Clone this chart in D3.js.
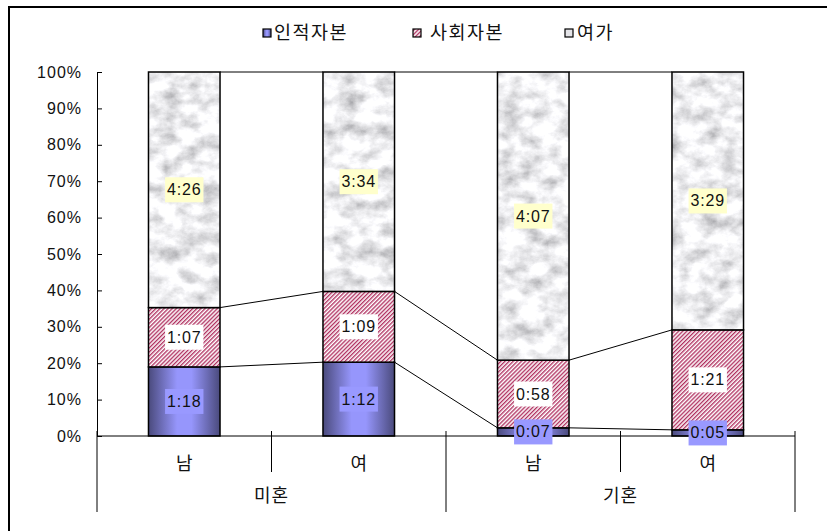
<!DOCTYPE html>
<html>
<head>
<meta charset="utf-8">
<script src="https://cdn.jsdelivr.net/npm/d3@7"></script>
<style>
  html, body { margin: 0; padding: 0; background: #fff; }
  svg { display: block; }
  text { font-family: "Liberation Sans", Arial, "Noto Sans CJK KR", sans-serif; fill: #111; }
  .kr { font-family: "Noto Sans CJK KR", "Liberation Sans", sans-serif; }
</style>
</head>
<body>
<svg id="chart" width="827" height="531"></svg>
<script>
// ---- data (minutes per day) ----
const categories = ["남", "여", "남", "여"];
const groups = ["미혼", "기혼"];
const groupOfCategory = [0, 0, 1, 1];
const seriesNames = ["인적자본", "사회자본", "여가"];
const humanCapital = [78, 72, 7, 5];      // 1:18, 1:12, 0:07, 0:05
const socialCapital = [67, 69, 58, 81];   // 1:07, 1:09, 0:58, 1:21
const leisure = [266, 214, 247, 209];     // 4:26, 3:34, 4:07, 3:29
const yTickValues = [0, 10, 20, 30, 40, 50, 60, 70, 80, 90, 100];

const svg = d3.select("#chart");
const W = 827, H = 531;
const plot = { left: 97, right: 795, top: 72, bottom: 436 };

// ---- defs: fills ----
const defs = svg.append("defs");
const grad = defs.append("linearGradient").attr("id", "blueGrad")
  .attr("x1", "0%").attr("x2", "100%").attr("y1", "0%").attr("y2", "0%");
[["0%", "#4a4a7c"], ["40%", "#9696fc"], ["60%", "#9696fc"], ["100%", "#4a4a7c"]]
  .forEach(([o, c]) => grad.append("stop").attr("offset", o).attr("stop-color", c));

const hatch = defs.append("pattern").attr("id", "hatch")
  .attr("patternUnits", "userSpaceOnUse").attr("width", 2.9).attr("height", 2.9)
  .attr("patternTransform", "rotate(45)");
hatch.append("rect").attr("width", 2.9).attr("height", 2.9).attr("fill", "#fff");
hatch.append("rect").attr("width", 1.35).attr("height", 2.9).attr("fill", "#b03060");

const marble = defs.append("filter").attr("id", "marble")
  .attr("filterUnits", "userSpaceOnUse").attr("x", 0).attr("y", 0).attr("width", W).attr("height", H);
marble.append("feTurbulence").attr("type", "fractalNoise").attr("baseFrequency", "0.05 0.065")
  .attr("numOctaves", 5).attr("seed", 11).attr("result", "noise");
marble.append("feColorMatrix").attr("in", "noise").attr("type", "matrix")
  .attr("values", "1.1 0 0 0 0.31  1.1 0 0 0 0.31  1.1 0 0 0 0.33  0 0 0 0 1").attr("result", "gray");
marble.append("feComposite").attr("in", "gray").attr("in2", "SourceGraphic").attr("operator", "in");

const seriesFill = ["url(#blueGrad)", "url(#hatch)", "#ffffff"];
const labelBg = ["#9999ff", "#ffffff", "#ffffcc"];

// ---- border ----
svg.append("rect").attr("x", 9).attr("y", 7).attr("width", 900).attr("height", 600)
  .attr("fill", "none").attr("stroke", "#000").attr("stroke-width", 2);

// ---- scales ----
const x = d3.scaleBand().domain(d3.range(categories.length))
  .range([plot.left, plot.right]).paddingInner(0.59).paddingOuter(0.295);
const y = d3.scaleLinear().domain([0, 1]).range([plot.bottom, plot.top]);

const table = categories.map((c, i) => ({
  i, s0: humanCapital[i], s1: socialCapital[i], s2: leisure[i]
}));
const stack = d3.stack().keys(["s0", "s1", "s2"]).offset(d3.stackOffsetExpand);
const stacked = stack(table);

const fmt = m => Math.floor(m / 60) + ":" + String(m % 60).padStart(2, "0");

// ---- series lines ----
const gLines = svg.append("g");
stacked.forEach(layer => {
  for (let i = 0; i < layer.length - 1; i++) {
    gLines.append("line")
      .attr("x1", x(i) + x.bandwidth()).attr("y1", y(layer[i][1]))
      .attr("x2", x(i + 1)).attr("y2", y(layer[i + 1][1]))
      .attr("stroke", "#000").attr("stroke-width", 1);
  }
});

// ---- bars ----
stacked.forEach((layer, si) => {
  const g = svg.append("g");
  layer.forEach((d, i) => {
    const r = g.append("rect")
      .attr("x", x(i)).attr("width", x.bandwidth())
      .attr("y", y(d[1])).attr("height", y(d[0]) - y(d[1]))
      .attr("fill", seriesFill[si]);
    if (si === 2) r.attr("filter", "url(#marble)");
    g.append("rect")
      .attr("x", x(i)).attr("width", x.bandwidth())
      .attr("y", y(d[1])).attr("height", y(d[0]) - y(d[1]))
      .attr("fill", "none").attr("stroke", "#000").attr("stroke-width", 1.5);
  });
});

// ---- axes ----
const yAxis = d3.axisLeft(y).tickValues(yTickValues.map(v => v / 100))
  .tickFormat(v => Math.round(v * 100) + "%").tickSize(-5).tickPadding(15);
const gy = svg.append("g").attr("transform", `translate(${plot.left},0)`).call(yAxis);
gy.select(".domain").attr("stroke", "#000");
gy.selectAll(".tick line").attr("stroke", "#000");
gy.selectAll("text").attr("font-size", 16).attr("letter-spacing", 1)
  .style("font-family", "'Liberation Sans', Arial, sans-serif").attr("fill", "#111");

// x axis line
svg.append("line").attr("x1", plot.left).attr("x2", plot.right)
  .attr("y1", plot.bottom).attr("y2", plot.bottom).attr("stroke", "#000");

// category boundaries
const step = x.step();
const bounds = d3.range(categories.length + 1).map(k => plot.left + k * step);
bounds.forEach((bx, k) => {
  const isGroupEdge = (k === 0 || k === categories.length ||
    groupOfCategory[k] !== groupOfCategory[k - 1]);
  svg.append("line").attr("x1", bx).attr("x2", bx)
    .attr("y1", plot.bottom - 5).attr("y2", isGroupEdge ? 512 : 472)
    .attr("stroke", "#000").attr("stroke-width", 1);
});

// category labels
svg.append("g").selectAll("text").data(categories).join("text")
  .attr("class", "kr")
  .attr("x", (d, i) => x(i) + x.bandwidth() / 2).attr("y", 465)
  .attr("text-anchor", "middle").attr("dominant-baseline", "middle")
  .attr("font-size", 18).text(d => d);

// group labels
groups.forEach((g, gi) => {
  const idx = d3.range(categories.length).filter(i => groupOfCategory[i] === gi);
  const x0 = plot.left + d3.min(idx) * step, x1 = plot.left + (d3.max(idx) + 1) * step;
  svg.append("text").attr("class", "kr")
    .attr("x", (x0 + x1) / 2).attr("y", 497)
    .attr("text-anchor", "middle").attr("dominant-baseline", "middle")
    .attr("font-size", 18).attr("letter-spacing", 1).text(g);
});

// ---- data labels ----
const gLab = svg.append("g");
stacked.forEach((layer, si) => {
  layer.forEach((d, i) => {
    const raw = [humanCapital, socialCapital, leisure][si][i];
    const cx = x(i) + x.bandwidth() / 2;
    let cy = (y(d[0]) + y(d[1])) / 2;
    const g = gLab.append("g");
    const t = g.append("text").attr("x", cx).attr("y", cy)
      .attr("text-anchor", "middle").attr("dominant-baseline", "central")
      .attr("font-size", 16).attr("letter-spacing", 0.8).text(fmt(raw));
    const bb = t.node().getBBox();
    g.insert("rect", "text")
      .attr("x", bb.x - 2).attr("y", cy - 12.5)
      .attr("width", bb.width + 4).attr("height", 25)
      .attr("fill", labelBg[si]);
  });
});

// ---- legend ----
const legendItems = [
  { name: seriesNames[0], sx: 263, tx: 274 },
  { name: seriesNames[1], sx: 413, tx: 430 },
  { name: seriesNames[2], sx: 565, tx: 577 }
];
legendItems.forEach((it, si) => {
  const sw = svg.append("rect").attr("x", it.sx).attr("y", 29).attr("width", 8).attr("height", 8)
    .attr("fill", seriesFill[si]).attr("stroke", "#000").attr("stroke-width", 1.2);
  if (si === 2) sw.attr("fill", "#e4e4e8");
  svg.append("text").attr("class", "kr").attr("x", it.tx).attr("y", 34)
    .attr("dominant-baseline", "middle").attr("font-size", 18.5).attr("letter-spacing", 1.5)
    .text(it.name);
});
</script>
</body>
</html>
